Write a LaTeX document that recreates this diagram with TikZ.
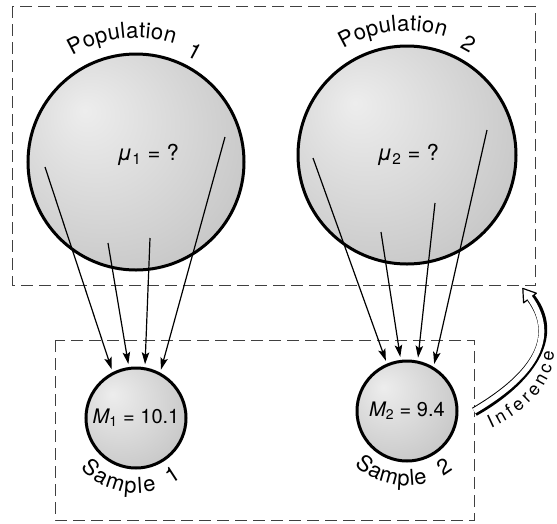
\documentclass[tikz,border=0pt]{standalone}
\usepackage{fontspec}
\setmainfont{TeX Gyre Heros}
\usetikzlibrary{arrows.meta,decorations.text}

\pgfdeclareradialshading{globe}{\pgfpoint{-12bp}{12bp}}{color(0bp)=(black!7); color(30bp)=(black!20); color(66bp)=(black!37)}
\newcommand{\lblfont}{\fontsize{20}{24}\selectfont}
\newcommand{\arcfont}{\fontsize{22}{26}\selectfont}

\begin{document}
\begin{tikzpicture}[x=1pt, y=1pt,
    ball/.style={circle, draw=black, line width=3pt, shade, shading=globe, inner sep=0pt, font=\lblfont},
    dashbox/.style={draw=black!75, line width=0.8pt, dash pattern=on 12pt off 6pt},
    pick/.style={line width=1.2pt, -{Stealth[length=12pt, width=7.5pt, inset=2.5pt]}, shorten >=3pt},
    arclabel/.style={decorate, decoration={text along path, text align={fit to path}, text={|\arcfont|#1}}},
    arcnum/.style={decorate, decoration={text along path, text align=center, text={|\arcfont|#1}}}]
  \useasboundingbox (0,0) rectangle (557,-523);

  % the two frames
  \draw[dashbox] (12,-6) rectangle (535,-285);
  \draw[dashbox] (55,-340) rectangle (474,-520);

  % populations and samples
  \node[ball, minimum size=216pt] (pop1) at (136,-162) {};
  \node[ball, minimum size=218pt] (pop2) at (407,-155) {};
  \node[ball, minimum size=100pt] (s1) at (136,-418) {{\itshape M}\textsubscript{1} = 10.1};
  \node[ball, minimum size=100pt] (s2) at (407,-411) {{\itshape M}\textsubscript{2} = 9.4};

  \node[font=\fontsize{22}{26}\selectfont] (mu1) at (148,-155) {{\itshape μ}\textsubscript{1} = ?};
  \node[font=\fontsize{22}{26}\selectfont] (mu2) at (408,-155) {{\itshape μ}\textsubscript{2} = ?};

  % curved names
  \path[arclabel=Population] (pop1.center) ++(121:124) arc[start angle=121, end angle=72, radius=124];
  \path[arcnum=1] (pop1.center) ++(67:117) arc[start angle=67, end angle=57, radius=117];
  \path[arclabel=Population] (pop2.center) ++(121:124) arc[start angle=121, end angle=72, radius=124];
  \path[arcnum=2] (pop2.center) ++(66:119) arc[start angle=66, end angle=56, radius=119];
  \path[arclabel=Sample] (s1.center) ++(222:75) arc[start angle=222, end angle=286, radius=75];
  \path[arcnum=1] (s1.center) ++(298:75) arc[start angle=298, end angle=308, radius=75];
  \path[arclabel=Sample] (s2.center) ++(226:75) arc[start angle=226, end angle=286, radius=75];
  \path[arcnum=2] (s2.center) ++(299:75) arc[start angle=299, end angle=309, radius=75];

  % picks from population 1
  \coordinate (a11) at (45,-167);
  \coordinate (a12) at (108,-243);
  \coordinate (a13) at (150,-238);
  \coordinate (a14) at (225,-137);
  \draw[pick] (a11) -- (s1.117);
  \draw[pick] (a12) -- (s1.98);
  \draw[pick] (a13) -- (s1.80);
  \draw[pick] (a14) -- (s1.62);

  % picks from population 2
  \coordinate (a21) at (313,-158);
  \coordinate (a22) at (381,-232);
  \coordinate (a23) at (435,-203);
  \coordinate (a24) at (487,-130);
  \draw[pick] (a21) -- (s2.113);
  \draw[pick] (a22) -- (s2.97);
  \draw[pick] (a23) -- (s2.78);
  \draw[pick] (a24) -- (s2.59);

  % inference arrow
  \coordinate (infa) at (474,-411);
  \coordinate (infb) at (530,-298);
  \draw[line width=7.5pt] (infa) .. controls (518,-385) and (565,-345) .. (infb);
  \draw[line width=3pt] (476,-414.4) .. controls (520.6,-389.5) and (569.2,-341.9) .. (533.2,-295.6);
  \draw[line width=1.2pt, fill=white, line join=round] (536.4,-293.2) -- (522.8,-288.4) -- (523.6,-302.8) -- cycle;
  \draw[white, line width=5.5pt, shorten >=-2.5pt] (infa) .. controls (518,-385) and (565,-345) .. (infb);
  \path[decorate, decoration={text along path, text align={fit to path}, text={|\fontsize{18}{22}\selectfont|Inference}}]
    (491,-428) .. controls (522,-414) and (553,-388) .. (554,-352);
\end{tikzpicture}
\end{document}
